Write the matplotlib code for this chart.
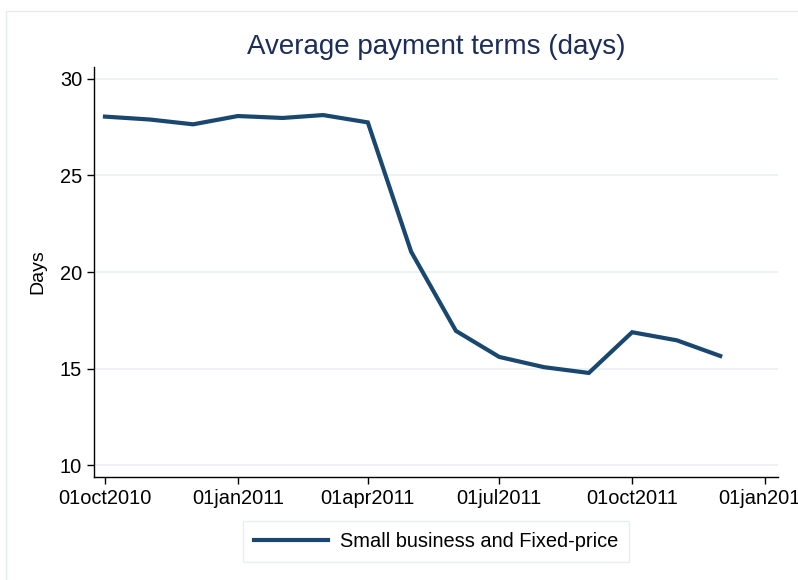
import matplotlib
matplotlib.use("Agg")
import matplotlib.pyplot as plt
import matplotlib.dates as mdates
from matplotlib.patches import Rectangle
import numpy as np

plt.rcParams['font.family'] = ['Liberation Sans', 'DejaVu Sans']

# ---- data ----
dates = ["2010-10-01", "2010-11-01", "2010-12-01", "2011-01-01", "2011-02-01",
         "2011-03-01", "2011-04-01", "2011-05-01", "2011-06-01", "2011-07-01",
         "2011-08-01", "2011-09-01", "2011-10-01", "2011-11-01", "2011-12-01"]
days = [28.05, 27.9, 27.65, 28.08, 27.98, 28.13, 27.75, 21.05, 16.95, 15.6,
        15.07, 14.77, 16.88, 16.46, 15.65]
series_label = "Small business and Fixed-price"
xtick_dates = ["2010-10-01", "2011-01-01", "2011-04-01", "2011-07-01",
               "2011-10-01", "2012-01-01"]
xtick_labels = ["01oct2010", "01jan2011", "01apr2011", "01jul2011",
                "01oct2011", "01jan2012"]
yticks = [10, 15, 20, 25, 30]
title = "Average payment terms (days)"
ylabel = "Days"

W, H = 798, 580
fig = plt.figure(figsize=(W / 100, H / 100), dpi=100)
fig.patch.set_facecolor("white")

# outer light frame
fig.patches.append(Rectangle((6 / W, -0.05), 1.0, 1 - 11 / H + 0.05,
                             transform=fig.transFigure, fill=False,
                             edgecolor="#e3ecee", linewidth=1.0))

ax = fig.add_axes([94 / W, 1 - 477 / H, (778 - 94) / W, (477 - 67) / H])

x = np.array(dates, dtype="datetime64[D]").astype("O")
line_color = "#1a476f"
ax.plot(x, days, color=line_color, linewidth=3.0, solid_joinstyle="miter",
        label=series_label, zorder=3)

xt = np.array(xtick_dates, dtype="datetime64[D]").astype("O")
ax.set_xticks(mdates.date2num(xt))
ax.set_xticklabels(xtick_labels)
x0 = mdates.date2num(np.datetime64("2010-10-01").astype("O"))
x1 = mdates.date2num(np.datetime64("2012-01-01").astype("O"))
ax.set_xlim(x0 - 7.6, x1 + 9.0)
ax.set_ylim(9.38, 30.62)
ax.set_yticks(yticks)
ax.set_yticklabels([str(v) for v in yticks])

ax.grid(axis="y", color="#eaf0f2", linewidth=1.2)
ax.set_axisbelow(True)
for s in ["top", "right"]:
    ax.spines[s].set_visible(False)
for s in ["left", "bottom"]:
    ax.spines[s].set_linewidth(1.0)
    ax.spines[s].set_color("black")

ax.tick_params(axis="both", direction="out", length=5, width=1.0,
               labelsize=14.4, pad=3.5, colors="black")

ax.set_title(title, fontsize=20, color="#1c2d59", pad=9)
ax.set_ylabel(ylabel, fontsize=14, labelpad=10)

fig.legend(loc="center", bbox_to_anchor=(436 / W, 1 - 541.5 / H),
           fontsize=14.4, frameon=True, fancybox=False, edgecolor="#e3ecee",
           handlelength=3.7, handletextpad=0.6, borderpad=0.55,
           borderaxespad=0)

fig.savefig("out.png", dpi=100, facecolor="white")
